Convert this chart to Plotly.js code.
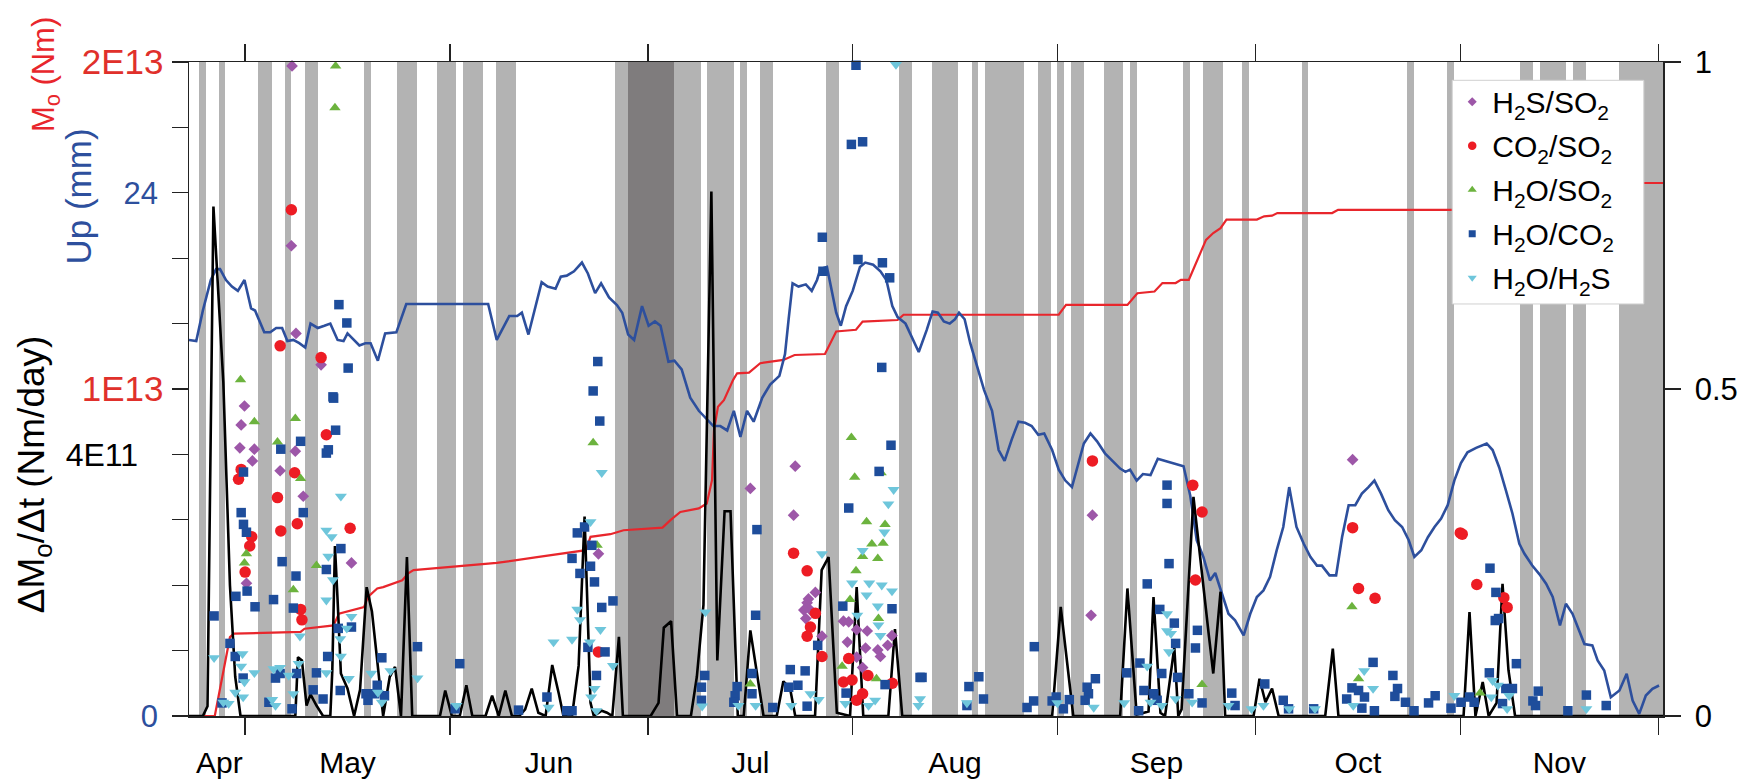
<!DOCTYPE html>
<html><head><meta charset="utf-8">
<script src="https://cdn.plot.ly/plotly-3.0.1.min.js"></script>
<style>html,body{margin:0;padding:0;background:#fff}#chart{width:1754px;height:784px}</style>
</head><body><div id="chart"></div>
<script>
const FONT = 'Liberation Sans, Arial, Helvetica, sans-serif';

// x = days counted from 1 April
const monthStarts = [30, 61, 91, 122, 153, 183, 214, 244];
const monthLabelPos = [26.1, 45.5, 76, 106.5, 137.5, 168, 198.5, 229];
const monthLabels = ['Apr', 'May', 'Jun', 'Jul', 'Aug', 'Sep', 'Oct', 'Nov'];

// shaded days (right axis, 0-1)
const grayDays = [23,26,32,33,36,39,40,48,53,54,55,59,60,61,63,64,65,68,69,70,86,87,95,96,97,98,100,101,102,103,105,108,109,118,119,129,130,134,135,136,137,140,142,143,144,145,146,147,150,151,153,155,156,160,161,162,164,172,175,176,177,181,190,206,212,223,224,226,227,228,229,231,232,238,239,240,241,242,243,244];
const darkDays = [88,89,90,91,92,93,94];

// Up (mm)
const upSeries = [[21.5,17.25],[22.6,17.2],[23.6,18.6],[24.8,20.0],[25.6,20.5],[26.2,20.5],[27.1,20.0],[28.0,19.7],[28.9,19.5],[29.9,20.0],[30.9,18.7],[31.5,18.6],[32.9,17.6],[33.8,17.6],[34.7,17.8],[35.6,17.8],[36.4,17.2],[37.3,17.25],[38.2,17.1],[39.1,16.9],[39.9,18.0],[41.0,17.8],[42.0,17.9],[42.9,18.0],[44.0,17.25],[44.9,17.2],[45.5,17.55],[46.4,17.25],[47.3,17.0],[48.2,17.1],[49.0,17.1],[50.1,16.3],[51.2,17.55],[52.9,17.6],[54.4,18.9],[55.5,18.9],[66.8,18.9],[68.1,17.25],[70.0,18.35],[71.2,18.35],[71.9,18.5],[72.9,17.5],[74.9,19.9],[75.8,19.7],[77.0,19.6],[77.8,20.15],[78.7,20.2],[79.8,20.4],[81.0,20.8],[81.9,20.3],[83.0,19.4],[83.9,19.85],[85.1,19.2],[86.3,18.85],[87.1,18.5],[88.0,17.5],[88.9,17.25],[90.1,18.8],[91.1,17.9],[92.05,18.1],[92.9,17.9],[94.1,16.25],[95.0,16.3],[96.1,15.9],[97.4,14.6],[98.7,14.0],[99.9,13.6],[100.9,13.3],[101.95,13.3],[103.0,13.1],[104.0,14.0],[105.0,12.8],[106.0,14.0],[107.0,13.5],[108.3,14.6],[109.5,15.2],[110.9,15.6],[111.75,16.6],[112.3,18.2],[112.9,19.85],[113.8,19.7],[114.9,19.8],[115.8,19.5],[116.6,20.0],[117.1,20.5],[118.1,20.6],[118.7,19.7],[119.5,18.5],[120.2,17.9],[121.0,18.8],[122.0,19.5],[123.1,20.6],[123.9,20.8],[125.1,20.7],[126.2,20.4],[127.1,20.0],[128.0,18.8],[128.8,18.3],[130.0,18.0],[131.2,17.2],[132.0,16.7],[133.2,17.7],[134.1,18.55],[134.9,18.5],[135.8,18.1],[136.7,18.0],[137.5,18.2],[138.1,18.5],[138.95,18.2],[139.8,17.1],[141.0,15.9],[141.9,14.95],[143.1,14.0],[144.1,12.2],[145.0,11.7],[146.1,12.7],[147.1,13.5],[148.1,13.45],[149.1,13.3],[150.1,12.9],[151.0,12.96],[152.2,12.2],[153.2,11.3],[154.2,10.8],[155.2,10.5],[156.2,11.6],[157.0,12.5],[158.0,12.96],[159.0,12.6],[160.2,12.05],[161.5,11.65],[162.5,11.35],[163.3,11.2],[164.0,11.3],[165.0,10.8],[165.95,11.1],[167.1,11.05],[168.2,11.8],[169.35,11.7],[172.1,11.46],[173.1,10.13],[174.1,8.06],[175.1,7.3],[176.1,6.22],[176.9,6.56],[177.9,5.61],[178.9,4.69],[179.9,4.39],[181.2,3.7],[182.2,4.69],[183.2,5.46],[184.2,5.76],[185.2,6.38],[186.2,7.6],[187.2,8.67],[188.1,10.5],[189.2,8.67],[190.3,7.9],[191.3,7.3],[192.3,6.9],[193.05,6.9],[194.2,6.45],[195.2,6.45],[196.1,8.2],[197.1,9.67],[198.1,9.67],[199.1,10.2],[200.1,10.5],[201.0,10.8],[202.0,10.2],[203.1,9.44],[204.1,8.98],[205.2,8.67],[206.2,8.06],[207.05,7.3],[208.1,7.6],[209.1,8.2],[210.1,8.67],[211.1,9.06],[212.1,9.67],[213.1,10.8],[214.1,11.6],[215.1,12.1],[216.4,12.3],[218.0,12.5],[218.9,12.2],[219.9,11.4],[220.9,10.36],[221.9,9.29],[222.95,7.9],[223.7,7.45],[224.9,6.9],[226.0,6.5],[227.0,6.07],[228.0,5.46],[229.1,4.16],[230.0,5.15],[231.0,4.69],[232.05,3.85],[232.8,3.3],[234.0,3.24],[234.8,2.55],[235.8,2.09],[236.8,0.86],[238.1,1.17],[239.2,1.94],[240.1,0.71],[241.1,0.1],[242.1,0.94],[243.1,1.25],[244.1,1.4]];

// cumulative M0 (Nm)
const m0Series = [[21.5,0],[25.4,0],[27.7,2.41e12],[28.3,2.52e12],[38.4,2.57e12],[39.0,2.67e12],[43.4,2.77e12],[44.2,3.13e12],[48.0,3.33e12],[48.6,3.64e12],[50.0,3.9e12],[50.9,3.94e12],[53.8,4.15e12],[54.7,4.36e12],[55.5,4.46e12],[61.1,4.56e12],[68.1,4.68e12],[74.2,4.86e12],[78.7,5.0e12],[81.6,5.07e12],[82.3,5.48e12],[85.3,5.56e12],[87.3,5.68e12],[93.2,5.76e12],[94.4,5.99e12],[95.9,6.24e12],[98.7,6.35e12],[99.9,6.5e12],[100.7,7.21e12],[101.0,8.74e12],[101.6,9.46e12],[102.5,9.66e12],[103.9,10.28e12],[104.5,10.48e12],[106.3,10.5e12],[108.0,10.79e12],[111.5,10.89e12],[113.2,11.04e12],[117.8,11.07e12],[119.5,11.76e12],[122.5,11.81e12],[123.5,12.06e12],[128.8,12.11e12],[129.7,12.27e12],[153.2,12.27e12],[154.3,12.57e12],[163.6,12.57e12],[165.1,12.93e12],[167.7,12.98e12],[168.9,13.24e12],[170.9,13.24e12],[171.7,13.34e12],[172.9,13.34e12],[174.0,13.85e12],[175.5,14.56e12],[176.6,14.77e12],[177.7,14.92e12],[178.6,15.18e12],[183.2,15.18e12],[184.3,15.28e12],[185.5,15.3e12],[186.3,15.38e12],[194.6,15.38e12],[195.5,15.48e12],[235.5,15.48e12],[236.5,16.3e12],[244.7,16.3e12]];

// dM0/dt (Nm/day)
const rateSeries = [[21.5,0],[23.6,0],[24.3,0.15e11],[25.2,7.79e11],[26.7,5.1e11],[27.7,2.0e11],[28.5,0.6e11],[29.3,0],[37.6,0],[38.0,0.9e11],[38.6,0.85e11],[39.3,0.16e11],[39.9,0.33e11],[40.8,0.16e11],[41.8,0],[42.9,0],[43.2,0.7e11],[43.6,2.6e11],[44.0,1.77e11],[44.5,0.65e11],[45.5,0.42e11],[46.5,0],[47.4,0.4e11],[48.4,1.97e11],[49.2,1.6e11],[50.1,0.8e11],[50.9,0],[51.9,0.6e11],[52.7,0.75e11],[53.6,0],[54.5,2.43e11],[55.3,0],[59.5,0],[60.3,0.39e11],[61.3,0],[62.5,0],[63.5,0.47e11],[64.4,0],[66.4,0],[67.4,0.31e11],[68.4,0],[69.4,0.39e11],[70.4,0],[71.5,0],[72.4,0.1e11],[73.4,0.42e11],[74.4,0.05e11],[75.5,0],[76.5,0.78e11],[77.5,0.34e11],[78.2,0],[79.5,0],[80.5,0.77e11],[81.4,3.05e11],[82.0,1.2e11],[82.3,0.2e11],[82.8,0],[84.0,0.08e11],[84.8,0.05e11],[85.6,0],[86.6,1.21e11],[87.2,0],[91.4,0],[92.6,0.2e11],[93.4,1.35e11],[94.5,1.45e11],[95.4,0],[97.5,0],[98.4,0.6e11],[99.4,1.7e11],[100.6,8.02e11],[101.5,0.85e11],[102.6,3.13e11],[103.5,3.13e11],[104.6,0],[105.5,0],[106.5,1.31e11],[107.5,0.65e11],[108.5,0],[110.5,0],[111.5,0.53e11],[112.5,0.43e11],[113.3,0],[116.3,0],[117.3,2.23e11],[118.35,2.43e11],[119.6,0.05e11],[121.6,0],[122.6,1.97e11],[123.6,0],[127.4,0],[128.4,1.33e11],[129.5,0],[152.2,0],[153.5,1.67e11],[155.4,0],[162.5,0],[163.6,1.95e11],[165.0,0.02e11],[166.8,0.07e11],[167.55,1.82e11],[168.6,0.05e11],[169.3,0],[170.7,1.05e11],[171.3,0],[171.8,0.1e11],[173.6,3.35e11],[175.9,1.26e11],[176.6,0.65e11],[177.7,1.9e11],[178.4,0],[182.7,0],[183.6,0.57e11],[184.5,0.21e11],[185.5,0.42e11],[186.5,0],[193.55,0],[194.7,1.03e11],[195.55,0],[214.5,0],[215.4,1.59e11],[216.3,0],[217.4,0.52e11],[218.3,0],[219.5,0.2e11],[220.4,2.02e11],[221.3,0.7e11],[222.3,0],[244.7,0]];

// gas ratios (normalised, 0-1)
const h2sso2 = [[37.1,0.994],[37.0,0.719],[37.7,0.585],[41.5,0.537],[29.9,0.474],[29.4,0.445],[29.2,0.41],[31.4,0.408],[37.6,0.405],[31.1,0.39],[35.3,0.375],[38.8,0.336],[46.1,0.234],[30.2,0.203],[83.5,0.248],[106.5,0.348],[113.3,0.382],[113.05,0.307],[116.35,0.189],[115.1,0.173],[115.6,0.162],[114.9,0.149],[114.6,0.162],[115.3,0.179],[120.6,0.145],[121.4,0.144],[122.6,0.132],[124.2,0.13],[117.35,0.122],[127.95,0.123],[121.2,0.113],[127.3,0.108],[123.95,0.104],[125.8,0.101],[122.6,0.09],[126.2,0.091],[123.5,0.074],[158.3,0.307],[158.1,0.154],[197.7,0.392]];
const co2so2 = [[37.0,0.774],[35.3,0.566],[41.5,0.548],[42.3,0.43],[29.4,0.377],[37.5,0.372],[29.0,0.362],[34.9,0.334],[37.9,0.294],[35.4,0.283],[45.9,0.287],[31.0,0.274],[30.7,0.26],[30.0,0.22],[38.4,0.163],[38.6,0.147],[83.5,0.098],[113.05,0.249],[115.1,0.222],[116.35,0.157],[115.6,0.136],[115.1,0.122],[117.35,0.091],[121.4,0.088],[124.3,0.062],[120.6,0.052],[121.9,0.055],[128.0,0.05],[123.5,0.034],[122.6,0.024],[158.3,0.39],[173.5,0.353],[174.9,0.312],[173.9,0.208],[197.7,0.288],[198.6,0.195],[201.1,0.18],[214.0,0.28],[214.3,0.278],[216.5,0.201],[220.6,0.181],[221.1,0.166]];
const h2oso2 = [[43.7,0.994],[43.6,0.93],[29.3,0.514],[31.4,0.45],[37.6,0.455],[34.9,0.419],[38.4,0.363],[30.2,0.248],[29.9,0.234],[40.8,0.23],[37.3,0.193],[82.7,0.418],[83.3,0.261],[121.8,0.426],[122.3,0.365],[126.3,0.372],[124.1,0.297],[126.9,0.293],[124.9,0.263],[126.6,0.264],[123.5,0.244],[125.8,0.241],[122.5,0.222],[121.6,0.178],[125.9,0.149],[120.4,0.076],[125.6,0.057],[106.5,0.049],[174.9,0.048],[197.6,0.167],[198.6,0.057],[217.0,0.035]];
const h2oco2 = [[44.2,0.629],[45.4,0.601],[45.6,0.532],[43.3,0.488],[43.4,0.486],[43.7,0.437],[38.4,0.42],[35.4,0.408],[42.6,0.407],[42.3,0.402],[29.75,0.373],[29.4,0.311],[38.8,0.311],[29.75,0.293],[30.2,0.281],[44.5,0.256],[35.6,0.236],[42.3,0.224],[37.7,0.214],[30.3,0.191],[28.6,0.183],[34.3,0.178],[31.5,0.167],[37.3,0.165],[25.3,0.153],[46.1,0.136],[44.1,0.134],[27.7,0.111],[28.5,0.091],[42.5,0.091],[50.7,0.089],[56.1,0.106],[40.8,0.066],[29.7,0.058],[34.6,0.058],[35.3,0.065],[37.8,0.065],[40.3,0.04],[48.3,0.034],[50.0,0.047],[49.6,0.034],[26.5,0.02],[33.6,0.021],[37.1,0.011],[41.8,0.026],[44.4,0.039],[48.6,0.024],[51.1,0.031],
 [83.4,0.542],[82.7,0.497],[83.7,0.451],[81.4,0.289],[80.3,0.28],[82.5,0.261],[79.5,0.241],[82.3,0.229],[80.7,0.218],[82.9,0.205],[85.7,0.176],[84.0,0.166],[81.9,0.105],[84.5,0.098],[62.5,0.08],[83.2,0.062],[75.7,0.029],[71.4,0.009],[78.7,0.008],[79.5,0.008],[61.8,0.011],
 [122.5,0.995],[121.8,0.874],[123.5,0.878],[117.4,0.732],[122.8,0.698],[126.5,0.693],[127.6,0.67],[117.5,0.68],[126.4,0.533],[127.8,0.414],[126.0,0.374],[121.4,0.318],[107.5,0.285],[120.5,0.168],[127.95,0.164],[107.3,0.154],[116.7,0.108],[112.55,0.071],[114.8,0.069],[99.6,0.062],[106.75,0.065],[132.2,0.059],[126.9,0.048],[112.3,0.044],[113.7,0.047],[99.1,0.044],[104.5,0.045],[106.75,0.034],[104.2,0.031],[121.0,0.035],[99.1,0.024],[104.0,0.021],[109.9,0.013],[115.1,0.015],
 [169.6,0.353],[169.6,0.325],[169.9,0.233],[166.6,0.202],[168.5,0.163],[149.5,0.106],[165.5,0.081],[132.5,0.059],[141.1,0.06],[139.6,0.045],[141.8,0.026],[139.3,0.016],[158.75,0.057],[157.5,0.044],[157.7,0.034],[157.2,0.024],[163.5,0.066],[168.8,0.065],[149.4,0.023],[148.4,0.013],[152.2,0.023],[152.8,0.029],[153.9,0.011],[154.8,0.025],[166.1,0.039],[167.6,0.034],[165.3,0.008],[168.1,0.024],
 [170.7,0.142],[174.2,0.131],[170.9,0.111],[173.9,0.104],[171.2,0.059],[172.9,0.034],[174.9,0.02],[179.4,0.035],[179.9,0.016],[184.4,0.049],[187.2,0.024],[188.0,0.011],[191.8,0.011],[200.8,0.082],[203.8,0.062],[197.6,0.043],[198.6,0.039],[204.5,0.042],[196.8,0.026],[199.5,0.029],[204.1,0.03],[199.1,0.012],[201.0,0.008],[205.7,0.021],
 [218.5,0.226],[219.4,0.189],[219.3,0.146],[219.8,0.149],[222.5,0.08],[218.4,0.066],[225.8,0.038],[233.1,0.032],[210.2,0.031],[209.2,0.02],[207.0,0.008],[212.6,0.012],[214.1,0.021],[215.4,0.029],[216.1,0.021],[220.9,0.042],[221.9,0.042],[220.4,0.019],[225.0,0.023],[225.4,0.016],[230.3,0.008],[236.1,0.016]];
const h2oh2s = [[44.5,0.336],[42.3,0.284],[43.1,0.274],[42.6,0.244],[43.3,0.208],[42.3,0.177],[46.1,0.152],[45.4,0.134],[44.4,0.118],[38.3,0.122],[25.3,0.089],[29.6,0.095],[44.5,0.091],[29.4,0.076],[35.3,0.074],[34.3,0.072],[38.1,0.08],[42.3,0.066],[31.4,0.066],[52.0,0.069],[56.1,0.058],[29.9,0.052],[36.6,0.062],[45.7,0.057],[28.5,0.036],[49.1,0.065],[50.1,0.036],[29.7,0.029],[26.7,0.021],[27.5,0.019],[34.1,0.025],[34.6,0.016],[37.3,0.034],[50.7,0.021],
 [84.0,0.372],[82.3,0.297],[80.3,0.163],[80.7,0.147],[83.8,0.132],[76.7,0.113],[79.5,0.117],[82.2,0.113],[85.7,0.077],[82.9,0.042],[82.4,0.029],[75.95,0.013],[62.0,0.016],[83.2,0.008],
 [128.55,0.996],[128.2,0.346],[127.4,0.324],[126.8,0.281],[117.35,0.248],[123.5,0.253],[121.9,0.203],[124.5,0.203],[126.4,0.2],[127.95,0.191],[124.1,0.185],[125.8,0.168],[122.7,0.154],[99.7,0.159],[125.9,0.139],[126.2,0.123],[99.2,0.015],[104.7,0.016],[107.3,0.016],[112.7,0.016],[115.6,0.034],[116.85,0.025],[120.9,0.019],[124.4,0.016],[125.4,0.024],[131.95,0.016],
 [169.6,0.156],[169.6,0.13],[166.6,0.076],[158.5,0.013],[163.1,0.02],[167.1,0.021],[168.8,0.016],[132.2,0.026],[139.3,0.02],[153.0,0.02],
 [170.2,0.126],[169.9,0.098],[170.9,0.026],[173.4,0.021],[178.9,0.016],[182.4,0.011],[184.2,0.016],[188.1,0.011],[192.0,0.011],[199.45,0.069],[200.8,0.042],[197.8,0.016],
 [213.1,0.031],[218.9,0.054],[219.7,0.047],[218.7,0.029],[221.4,0.031],[221.1,0.011],[233.1,0.011]];

// axis ticks and labels
const m0TickVals = [1e13, 2e13];
const m0TickText = ['1E13', '2E13'];
const m0MinorVals = [0,2e12,4e12,6e12,8e12,1e13,1.2e13,1.4e13,1.6e13,1.8e13,2e13];
const upTickVals = [0, 24];
const upTickText = ['0', '24'];
const rateTickVals = [4e11];
const rateTickText = ['4E11'];
const rightTickVals = [0, 0.5, 1];
const rightTickText = ['0', '0.5', '1'];

const xs = a => a.map(p => p[0]);
const ys = a => a.map(p => p[1]);

const RED = '#e8262c', BLUE = '#2d4f9d';

const traces = [
  {type:'bar', x:grayDays, y:grayDays.map(() => 1), width:1, offset:0, xaxis:'x', yaxis:'y',
   marker:{color:'#b3b3b3', line:{width:0}}, showlegend:false, hoverinfo:'skip'},
  {type:'bar', x:darkDays, y:darkDays.map(() => 1), width:1, offset:0, xaxis:'x', yaxis:'y',
   marker:{color:'#7f7c7d', line:{width:0}}, showlegend:false, hoverinfo:'skip'},
  {type:'scatter', mode:'lines', x:[], y:[], xaxis:'x2', yaxis:'y', showlegend:false, hoverinfo:'skip'},
  {type:'scatter', mode:'lines', x:xs(m0Series), y:ys(m0Series), xaxis:'x', yaxis:'y2',
   line:{color:RED, width:2.2}, showlegend:false},
  {type:'scatter', mode:'lines', x:xs(upSeries), y:ys(upSeries), xaxis:'x', yaxis:'y3',
   line:{color:BLUE, width:2.6}, showlegend:false},
  {type:'scatter', mode:'lines', x:xs(rateSeries), y:ys(rateSeries), xaxis:'x', yaxis:'y4',
   line:{color:'#000', width:2.6}, showlegend:false},
];
// [legend name, data, symbol, colour, plot size, legend size]
const gas = [
  ['H<sub>2</sub>S/SO<sub>2</sub>', h2sso2, 'diamond', '#9d57a8', 9, 7],
  ['CO<sub>2</sub>/SO<sub>2</sub>', co2so2, 'circle', '#ed1c24', 11.5, 8.5],
  ['H<sub>2</sub>O/SO<sub>2</sub>', h2oso2, 'triangle-up', '#6cb33e', 10, 8],
  ['H<sub>2</sub>O/CO<sub>2</sub>', h2oco2, 'square', '#1e4d9b', 9.5, 7],
  ['H<sub>2</sub>O/H<sub>2</sub>S', h2oh2s, 'triangle-down', '#6ec6db', 10.5, 8],
];
gas.forEach(([name, data, sym, col, sz]) => traces.push({
  type:'scatter', mode:'markers', name:name, x:xs(data), y:ys(data), xaxis:'x', yaxis:'y5',
  marker:{symbol:sym, color:col, size:sz, line:{width:0}}, cliponaxis:false, showlegend:false
}));
// legend entries (smaller legend symbols, as in the figure)
gas.forEach(([name, data, sym, col, sz, lsz]) => traces.push({
  type:'scatter', mode:'markers', name:name, x:[null], y:[null], xaxis:'x', yaxis:'y5',
  legendgroup:name, marker:{symbol:sym, color:col, size:lsz, line:{width:0}}, showlegend:true
}));

const XR = [21.5, 244.7];
const TK = {ticks:'outside', ticklen:16, tickwidth:1.3, tickcolor:'#222'};

const layout = {
  width:1754, height:784,
  margin:{l:189, r:91, t:62, b:68},
  paper_bgcolor:'#fff', plot_bgcolor:'#fff',
  barmode:'overlay', bargap:0,
  font:{family:FONT, color:'#000'},
  xaxis:Object.assign({range:XR, tickmode:'array', tickvals:monthStarts, showticklabels:false,
    showline:true, linecolor:'#222', linewidth:1.5, mirror:'ticks', showgrid:false, zeroline:false}, TK, {ticklen:17}),
  xaxis2:{range:XR, overlaying:'x', anchor:'y', side:'bottom', tickmode:'array', tickvals:monthLabelPos,
    ticktext:monthLabels, ticks:'', showline:false, showgrid:false, zeroline:false,
    tickfont:{family:FONT, size:30, color:'#000'}, ticklabelstandoff:26},
  yaxis:Object.assign({range:[0,1], side:'right', anchor:'x', tickmode:'array', tickvals:rightTickVals, ticktext:rightTickText,
    showline:true, linecolor:'#222', linewidth:1.5, showgrid:false, zeroline:false,
    tickfont:{family:FONT, size:31, color:'#000'}, ticklabelstandoff:8}, TK),
  yaxis2:Object.assign({range:[0,2e13], overlaying:'y', side:'left', anchor:'x', tickmode:'array', tickvals:m0TickVals, ticktext:m0TickText,
    showline:true, linecolor:'#222', linewidth:1.5, showgrid:false, zeroline:false,
    minor:{tickmode:'array', tickvals:m0MinorVals, ticks:'outside', ticklen:16, tickwidth:1.3, tickcolor:'#222', showgrid:false},
    tickfont:{family:FONT, size:35, color:'#e0302b'}, ticklabelstandoff:1}, TK),
  yaxis3:{range:[0,30], overlaying:'y', side:'left', anchor:'x', tickmode:'array', tickvals:upTickVals, ticktext:upTickText,
    ticks:'', showline:false, showgrid:false, zeroline:false, tickfont:{family:FONT, size:31, color:BLUE}, ticklabelstandoff:30},
  yaxis4:{range:[0,1e12], overlaying:'y', side:'left', anchor:'x', tickmode:'array', tickvals:rateTickVals, ticktext:rateTickText,
    ticks:'', showline:false, showgrid:false, zeroline:false, tickfont:{family:FONT, size:32, color:'#000'}, ticklabelstandoff:50},
  yaxis5:{range:[0,1], overlaying:'y', visible:false, anchor:'x'},
  legend:{x:0.857, y:0.979, xanchor:'left', yanchor:'top', bgcolor:'rgba(0,0,0,0)', borderwidth:0,
    font:{family:FONT, size:30, color:'#000'}, tracegroupgap:2, traceorder:'grouped'},
  // legend frame (white box with light border, drawn under the legend entries)
  shapes:[{type:'rect', xref:'paper', yref:'paper', x0:0.857, x1:0.987, y0:0.63, y1:0.972, layer:'above',
    fillcolor:'#ffffff', line:{color:'#d0d0d0', width:1}}],
  annotations:[
    {text:'M<sub>o</sub> (Nm)', xref:'paper', yref:'paper', x:-0.097, y:0.98, textangle:-90, showarrow:false,
     xanchor:'center', yanchor:'middle', font:{family:FONT, size:31, color:RED}},
    {text:'Up (mm)', xref:'paper', yref:'paper', x:-0.075, y:0.795, textangle:-90, showarrow:false,
     xanchor:'center', yanchor:'middle', font:{family:FONT, size:35, color:BLUE}},
    {text:'ΔM<sub>o</sub>/Δt (Nm/day)', xref:'paper', yref:'paper', x:-0.105, y:0.37, textangle:-90, showarrow:false,
     xanchor:'center', yanchor:'middle', font:{family:FONT, size:37, color:'#000'}},
  ],
  showlegend:true
};

Plotly.newPlot('chart', traces, layout, {staticPlot:true, displayModeBar:false});
</script>
</body></html>
